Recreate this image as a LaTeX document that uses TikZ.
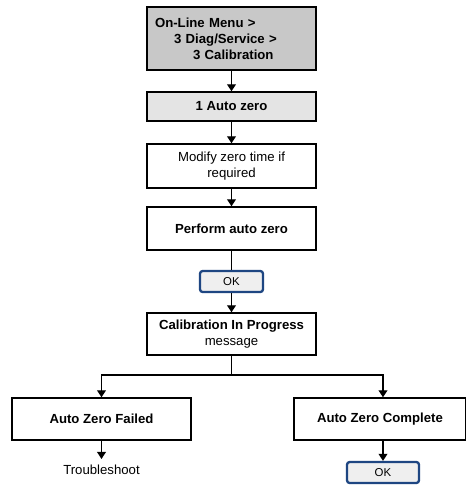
\documentclass[tikz,border=0pt]{standalone}
\usepackage{fontspec}
\setmainfont{Liberation Sans}
\usetikzlibrary{arrows.meta}
\definecolor{menugray}{RGB}{200,200,200}
\definecolor{stepgray}{RGB}{228,228,228}
\definecolor{okblue}{RGB}{30,70,130}
\tikzset{
  stepbox/.style={draw, line width=0.8pt, minimum width=3.38cm, align=center, font=\bfseries\fontsize{7.5}{9}\selectfont},
  okbtn/.style={draw=okblue, line width=1.3pt, rounded corners=1.5pt, fill=stepgray!60, minimum width=1.26cm, minimum height=0.42cm, inner sep=0pt, font=\fontsize{6.5}{8}\selectfont},
  flow/.style={line width=0.8pt, -{Triangle[width=5pt,length=4pt]}},
  link/.style={line width=0.8pt}
}
\begin{document}
\begin{tikzpicture}[x=0.02cm, y=-0.02cm]
  \useasboundingbox[fill=white] (0,0) rectangle (466,485);
  \node[stepbox, fill=menugray, minimum height=1.26cm, align=left, text width=3.06cm] (menu) at (231.5,38.5) {On-Line Menu >\\\hspace*{0.38cm}3 Diag/Service >\\\hspace*{0.76cm}3 Calibration};
  \node[stepbox, fill=stepgray, minimum height=0.58cm] (autozero) at (231.5,106.5) {1 Auto zero};
  \node[stepbox, minimum height=0.88cm, font=\fontsize{7.5}{9}\selectfont] (modify) at (231.5,166) {Modify zero time if\\required};
  \node[stepbox, minimum height=0.86cm] (perform) at (231.5,228.5) {Perform auto zero};
  \node[okbtn] (ok) at (231.5,281.5) {OK};
  \node[stepbox, minimum height=0.84cm] (progress) at (231.5,334) {Calibration In Progress\\{\mdseries message}};
  \node[stepbox, minimum width=3.58cm, minimum height=0.84cm] (failed) at (101.5,419) {Auto Zero Failed};
  \node[stepbox, minimum width=3.44cm, minimum height=0.84cm] (complete) at (380,419) {Auto Zero Complete};
  \node[font=\fontsize{7.5}{9}\selectfont] (trouble) at (101.5,470) {Troubleshoot};
  \node[okbtn, minimum width=1.44cm] (okdone) at (383,472.5) {OK};
  \coordinate (split) at (231.5,375);
  % main column
  \draw[flow] (menu) -- (autozero);
  \draw[flow] (autozero) -- (modify);
  \draw[flow] (modify) -- (perform);
  \draw[link] (perform) -- (ok);
  \draw[flow] (ok) -- (progress);
  % branches
  \draw[link] (progress) -- (split);
  \draw[flow] (split) -| (failed.north);
  \draw[flow] (split) -| (okdone.north |- complete.north);
  \draw[flow] (failed) -- (trouble);
  \draw[flow] (okdone.north |- complete.south) -- (okdone);
\end{tikzpicture}
\end{document}
